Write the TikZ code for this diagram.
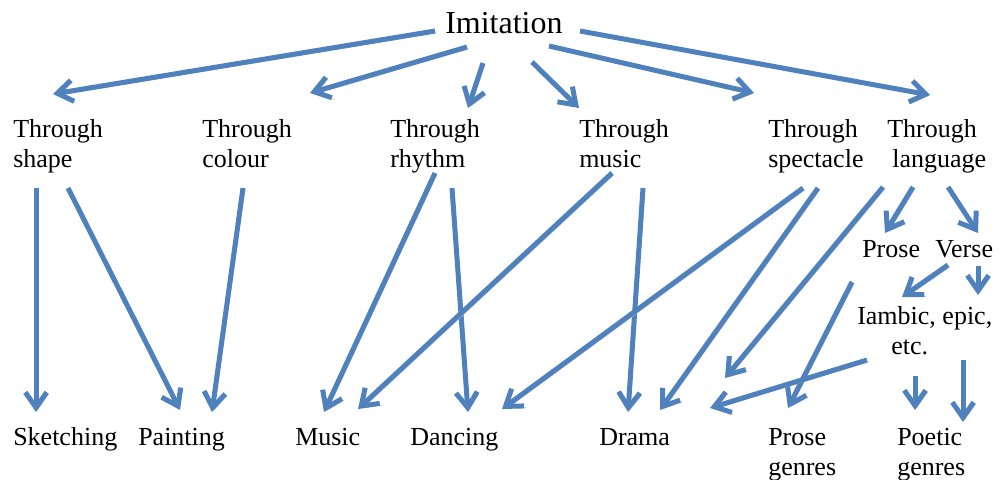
\documentclass[tikz,border=0pt]{standalone}
\usepackage{fontspec}
\newfontfamily\tnr{LiberationSerif}[Extension=.ttf, UprightFont=*-Regular]
\usetikzlibrary{arrows.meta}
\definecolor{arrowblue}{HTML}{4F81BD}
\definecolor{shadowgray}{HTML}{BFBFBF}
\begin{document}
\begin{tikzpicture}[x=0.75pt,y=-0.75pt,
  lbl/.style={anchor=base west, inner sep=0pt, font=\tnr\fontsize{19.5}{22.5}\selectfont},
  big/.style={anchor=base west, inner sep=0pt, font=\tnr\fontsize{24}{28}\selectfont},
  arr/.style={draw=arrowblue, line width=3.75pt,
    -{Straight Barb[length=11.5pt,width=16pt]},
    preaction={draw=shadowgray, transform canvas={shift={(1.4pt,-1.4pt)}}}}]
\useasboundingbox (0,0) rectangle (1000,479);
% labels
\node[big] (imit) at (445,33) {Imitation};
\node[lbl] (shape) at (13,137) {\begin{tabular}[t]{@{}l@{}}Through\\shape\end{tabular}};
\node[lbl] (colour) at (202,137) {\begin{tabular}[t]{@{}l@{}}Through\\colour\end{tabular}};
\node[lbl] (rhythm) at (390,137) {\begin{tabular}[t]{@{}l@{}}Through\\rhythm\end{tabular}};
\node[lbl] (music) at (579,137) {\begin{tabular}[t]{@{}l@{}}Through\\music\end{tabular}};
\node[lbl] (spect) at (768,137) {\begin{tabular}[t]{@{}l@{}}Through\\spectacle\end{tabular}};
\node[lbl] (lang) at (887,137) {\begin{tabular}[t]{@{}l@{}}Through\\\hspace{3.75pt}language\end{tabular}};
\node[lbl] (prose) at (862,257) {Prose};
\node[lbl] (verse) at (935,257) {Verse};
\node[lbl] (iamb) at (857,324) {\begin{tabular}[t]{@{}l@{}}Iambic, epic,\\\hspace{25.5pt}etc.\end{tabular}};
\node[lbl] (sketch) at (13,445) {Sketching};
\node[lbl] (paint) at (138,445) {Painting};
\node[lbl] (musicb) at (295,445) {Music};
\node[lbl] (dance) at (410,445) {Dancing};
\node[lbl] (drama) at (599,445) {Drama};
\node[lbl] (proseg) at (768,445) {\begin{tabular}[t]{@{}l@{}}Prose\\genres\end{tabular}};
\node[lbl] (poetg) at (897,445) {\begin{tabular}[t]{@{}l@{}}Poetic\\genres\end{tabular}};
% arrows
\foreach \n/\sx/\sy/\ex/\ey in {
  1/435/31/53/94, 2/467/47/310/93, 3/483/63/468/108, 4/532/62/579/108,
  5/549/46/754/93, 6/580/31/930/95, 7/36/188/36/412, 8/68/188/180/410,
  9/243/188/212/412, 10/435/173/324/412, 11/452/188/468/412, 12/612/173/358/409,
  13/643/188/628/412, 14/803/188/502/409, 15/818/188/660/410, 16/883/187/725/378,
  17/852/282/788/408, 18/913/187/885/233, 19/948/187/978/233, 20/948/265/902/297,
  21/978/266/978/295, 22/915/376/915/410, 23/963/360/963/422, 24/867/360/710/408}{
  \coordinate (s\n) at (\sx,\sy);
  \coordinate (e\n) at (\ex,\ey);
  \draw[arr] (s\n) -- (e\n);
}
\end{tikzpicture}
\end{document}
